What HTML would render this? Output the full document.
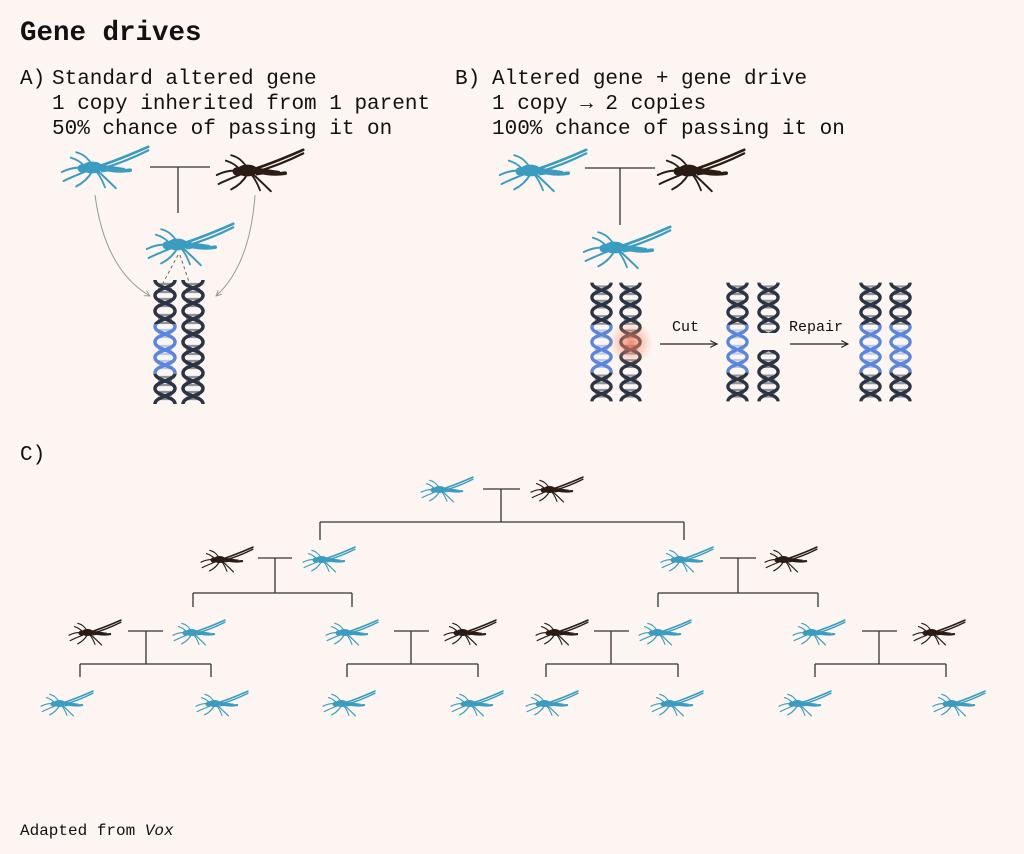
<!DOCTYPE html>
<html><head><meta charset="utf-8"><style>
html,body{margin:0;padding:0;background:#fdf5f1;}
svg{display:block}
text{font-family:"Liberation Mono",monospace;fill:#111}
</style></head><body>
<svg width="1024" height="854" viewBox="0 0 1024 854" xmlns="http://www.w3.org/2000/svg">
<defs>
<symbol id="mq" viewBox="0 0 100 50">
 <g fill="none" stroke-linecap="round">
  <path d="M42 24 C60 18 80 10 98 2" stroke-width="3"/>
  <path d="M44 27 C62 22 82 14 98 6" stroke-width="2.5"/>
  <path d="M40 25 C55 28 65 30 78 28" stroke-width="4"/>
  <path d="M30 26 C20 24 10 26 2 30" stroke-width="2.2"/>
  <path d="M32 28 C22 32 12 36 4 40" stroke-width="2.2"/>
  <path d="M36 29 C32 36 26 42 18 46" stroke-width="2.2"/>
  <path d="M42 29 C50 36 56 42 62 48" stroke-width="2.2"/>
  <path d="M40 29 C46 36 48 42 50 47" stroke-width="2"/>
  <path d="M36 22 C30 14 26 10 18 8" stroke-width="2"/>
  <path d="M28 24 C22 18 18 16 12 14" stroke-width="2"/>
 </g>
 <ellipse cx="36" cy="25" rx="11" ry="6"/>
 <circle cx="24" cy="26" r="4"/>
 <path d="M44 22 L72 26 L46 30 Z"/>
</symbol>
<g id="helix" fill="none" stroke-width="3.5">
 <path d="M2 0 C2 8 22 8 22 15.5 C22 23 2 23 2 31 C2 39 22 39 22 46.5 C22 54 2 54 2 62 C2 70 22 70 22 77.5 C22 85 2 85 2 93 C2 101 22 101 22 108.5 C22 116 2 116 2 124"/>
 <path d="M22 0 C22 8 2 8 2 15.5 C2 23 22 23 22 31 C22 39 2 39 2 46.5 C2 54 22 54 22 62 C22 70 2 70 2 77.5 C2 85 22 85 22 93 C22 101 2 101 2 108.5 C2 116 22 116 22 124"/>
</g>
<g id="rungs" stroke-width="2.2">
 <path d="M6 4h12M5 9h14M5 12h14M6 19h12M5 22h14M6 26h12M6 35h12M5 39h14M5 43h14M6 50h12M5 53h14M6 57h12M6 66h12M5 70h14M5 74h14M6 81h12M5 84h14M6 88h12M6 97h12M5 101h14M5 105h14M6 112h12M5 115h14M6 119h12"/>
</g>
<clipPath id="mid"><rect x="-5" y="44" width="40" height="50"/></clipPath>
<symbol id="dna" viewBox="0 0 24 124" overflow="visible">
 <use href="#rungs" stroke="#8d939c"/><use href="#helix" stroke="#2c3444"/>
</symbol>
<symbol id="dnab" viewBox="0 0 24 124" overflow="visible">
 <use href="#rungs" stroke="#8d939c"/><use href="#helix" stroke="#2c3444"/>
 <g clip-path="url(#mid)"><rect x="0" y="44" width="24" height="50" fill="#fdf5f1"/><use href="#rungs" stroke="#b8c8ee"/><use href="#helix" stroke="#5b86db"/></g>
</symbol>
<radialGradient id="glow"><stop offset="0" stop-color="#f07050" stop-opacity=".8"/><stop offset="1" stop-color="#f7a080" stop-opacity="0"/></radialGradient>
<marker id="ar" viewBox="0 0 10 10" refX="9" refY="5" markerWidth="7" markerHeight="7" orient="auto"><path d="M1 1L9 5L1 9" fill="none" stroke="#222" stroke-width="1.4"/></marker>
<marker id="ag" viewBox="0 0 10 10" refX="9" refY="5" markerWidth="7" markerHeight="7" orient="auto"><path d="M1 1L9 5L1 9" fill="none" stroke="#999" stroke-width="1.4"/></marker>
</defs>

<text x="20" y="40" font-size="27.5" font-weight="bold">Gene drives</text>
<g font-size="21">
<text x="20" y="84">A)</text>
<text x="52" y="84">Standard altered gene</text>
<text x="52" y="109">1 copy inherited from 1 parent</text>
<text x="52" y="134">50% chance of passing it on</text>
<text x="455" y="84">B)</text>
<text x="492" y="84">Altered gene + gene drive</text>
<text x="492" y="109">1 copy → 2 copies</text>
<text x="492" y="134">100% chance of passing it on</text>
<text x="20" y="460">C)</text>
</g>
<text x="20" y="835" font-size="16">Adapted from <tspan font-style="italic">Vox</tspan></text>

<!-- A -->
<use href="#mq" x="60" y="145" width="90" height="45" fill="#3a9cc0" stroke="#3a9cc0"/>
<use href="#mq" x="215" y="148" width="90" height="45" fill="#2a1c14" stroke="#2a1c14"/>
<path d="M150 167H210M178 167V213" stroke="#333" stroke-width="1.3" fill="none"/>
<use href="#mq" x="145" y="222" width="90" height="45" fill="#3a9cc0" stroke="#3a9cc0"/>
<g stroke="#999" stroke-width="1" fill="none">
<path d="M95 195 Q105 270 150 296" marker-end="url(#ag)"/>
<path d="M255 195 Q250 265 216 296" marker-end="url(#ag)"/>
<path d="M178 255L162 285M180 255L190 285" stroke="#666" stroke-dasharray="3 3"/>
</g>
<use href="#dnab" x="153" y="280" width="24" height="124"/>
<use href="#dna" x="181" y="280" width="24" height="124"/>

<!-- B -->
<use href="#mq" x="498" y="148" width="90" height="45" fill="#3a9cc0" stroke="#3a9cc0"/>
<use href="#mq" x="656" y="148" width="90" height="45" fill="#2a1c14" stroke="#2a1c14"/>
<path d="M585 168H655M620 168V225" stroke="#333" stroke-width="1.3"/>
<use href="#mq" x="582" y="225" width="90" height="45" fill="#3a9cc0" stroke="#3a9cc0"/>
<use href="#dnab" x="590" y="280" width="23" height="124"/>
<use href="#dna" x="619" y="280" width="23" height="124"/>
<circle cx="631" cy="343" r="22" fill="url(#glow)"/>
<text x="672" y="331" font-size="15">Cut</text>
<path d="M660 344H717" stroke="#222" stroke-width="1.2" marker-end="url(#ar)"/>
<use href="#dnab" x="726" y="280" width="23" height="124"/>
<clipPath id="cut1"><rect x="750" y="270" width="40" height="63"/><rect x="750" y="350" width="40" height="60"/></clipPath>
<g clip-path="url(#cut1)">
<use href="#dna" x="757" y="280" width="23" height="124"/>
</g>
<text x="789" y="331" font-size="15">Repair</text>
<path d="M790 344H848" stroke="#222" stroke-width="1.2" marker-end="url(#ar)"/>
<use href="#dnab" x="859" y="280" width="23" height="124"/>
<use href="#dnab" x="889" y="280" width="23" height="124"/>

<!-- C tree -->
<g stroke="#333" stroke-width="1.3" fill="none">
<path d="M483 489H520M501 489V522M320 522H684M320 522V540M684 522V540"/>
<path d="M258 558H292M275 558V593M193 593H352M193 593V607M352 593V607"/>
<path d="M720 558H756M738 558V593M658 593H818M658 593V607M818 593V607"/>
<path d="M128 631H163M146 631V664M80 664H211M80 664V677M211 664V677"/>
<path d="M394 631H429M411 631V664M347 664H478M347 664V677M478 664V677"/>
<path d="M594 631H629M611 631V664M546 664H678M546 664V677M678 664V677"/>
<path d="M862 631H897M879 631V664M815 664H946M815 664V677M946 664V677"/>
</g>
<g>
<use href="#mq" x="420" y="476" width="54" height="27" fill="#3a9cc0" stroke="#3a9cc0"/>
<use href="#mq" x="530" y="476" width="54" height="27" fill="#2a1c14" stroke="#2a1c14"/>
<use href="#mq" x="200" y="546" width="54" height="27" fill="#2a1c14" stroke="#2a1c14"/>
<use href="#mq" x="302" y="546" width="54" height="27" fill="#3a9cc0" stroke="#3a9cc0"/>
<use href="#mq" x="660" y="546" width="54" height="27" fill="#3a9cc0" stroke="#3a9cc0"/>
<use href="#mq" x="764" y="546" width="54" height="27" fill="#2a1c14" stroke="#2a1c14"/>
<use href="#mq" x="68" y="619" width="54" height="27" fill="#2a1c14" stroke="#2a1c14"/>
<use href="#mq" x="172" y="619" width="54" height="27" fill="#3a9cc0" stroke="#3a9cc0"/>
<use href="#mq" x="325" y="619" width="54" height="27" fill="#3a9cc0" stroke="#3a9cc0"/>
<use href="#mq" x="443" y="619" width="54" height="27" fill="#2a1c14" stroke="#2a1c14"/>
<use href="#mq" x="535" y="619" width="54" height="27" fill="#2a1c14" stroke="#2a1c14"/>
<use href="#mq" x="638" y="619" width="54" height="27" fill="#3a9cc0" stroke="#3a9cc0"/>
<use href="#mq" x="792" y="619" width="54" height="27" fill="#3a9cc0" stroke="#3a9cc0"/>
<use href="#mq" x="912" y="619" width="54" height="27" fill="#2a1c14" stroke="#2a1c14"/>
<use href="#mq" x="40" y="690" width="54" height="27" fill="#3a9cc0" stroke="#3a9cc0"/>
<use href="#mq" x="195" y="690" width="54" height="27" fill="#3a9cc0" stroke="#3a9cc0"/>
<use href="#mq" x="322" y="690" width="54" height="27" fill="#3a9cc0" stroke="#3a9cc0"/>
<use href="#mq" x="450" y="690" width="54" height="27" fill="#3a9cc0" stroke="#3a9cc0"/>
<use href="#mq" x="525" y="690" width="54" height="27" fill="#3a9cc0" stroke="#3a9cc0"/>
<use href="#mq" x="650" y="690" width="54" height="27" fill="#3a9cc0" stroke="#3a9cc0"/>
<use href="#mq" x="778" y="690" width="54" height="27" fill="#3a9cc0" stroke="#3a9cc0"/>
<use href="#mq" x="932" y="690" width="54" height="27" fill="#3a9cc0" stroke="#3a9cc0"/>
</g>
</svg>
</body></html>
